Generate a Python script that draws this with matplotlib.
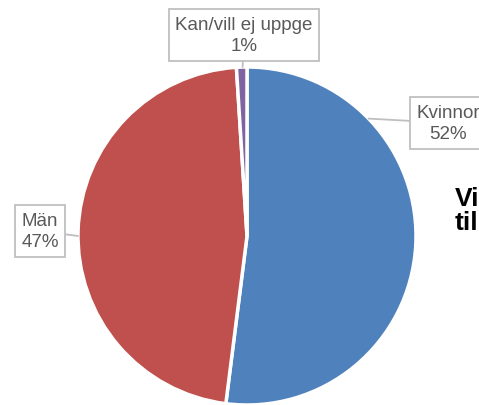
import numpy as np
import matplotlib
matplotlib.use("Agg")
import matplotlib.pyplot as plt

plt.rcParams['font.family'] = ['Liberation Sans', 'DejaVu Sans']

categories = ["Kvinnor", "Män", "Kan/vill ej uppge"]
values = [52, 47, 1]
colors = ["#4F81BD", "#C0504D", "#8064A2"]
title_lines = ["Vi", "til"]

W, H = 479, 406
fig = plt.figure(figsize=(W / 100, H / 100), dpi=100)
ax = fig.add_axes([0, 0, 1, 1])

cx, cy, r = 247, H - 237, 169
wedges, _ = ax.pie(values, startangle=90, counterclock=False, colors=colors,
                   center=(cx, cy), radius=r,
                   wedgeprops=dict(edgecolor="white", linewidth=2.5))
ax.set_xlim(0, W)
ax.set_ylim(0, H)
ax.set_aspect("equal")
ax.axis("off")

# label placement: (text center x, text center y, leader angle on circle)
label_pos = {
    "Kvinnor": (448, H - 124, 44),
    "Män": (40, H - 232, 180),
    "Kan/vill ej uppge": (244, H - 36, 91.5),
}
for cat, val in zip(categories, values):
    tx, ty, ang = label_pos[cat]
    px = cx + r * np.cos(np.radians(ang))
    py = cy + r * np.sin(np.radians(ang))
    ax.annotate(f"{cat}\n{val}%", xy=(px, py), xytext=(tx, ty),
                ha="center", va="center", fontsize=13.5, color="#595959",
                linespacing=1.3,
                bbox=dict(boxstyle="square,pad=0.35", fc="white", ec="#BFBFBF", lw=1.3),
                arrowprops=dict(arrowstyle="-", color="#BFBFBF", lw=1.3,
                                shrinkA=0, shrinkB=0),
                annotation_clip=False)

fig.text(455 / W, 1 - 211 / H, "\n".join(title_lines), ha="left", va="center",
         fontsize=19, fontweight="bold", color="black", linespacing=1.05)

fig.savefig("out.png", dpi=100)
